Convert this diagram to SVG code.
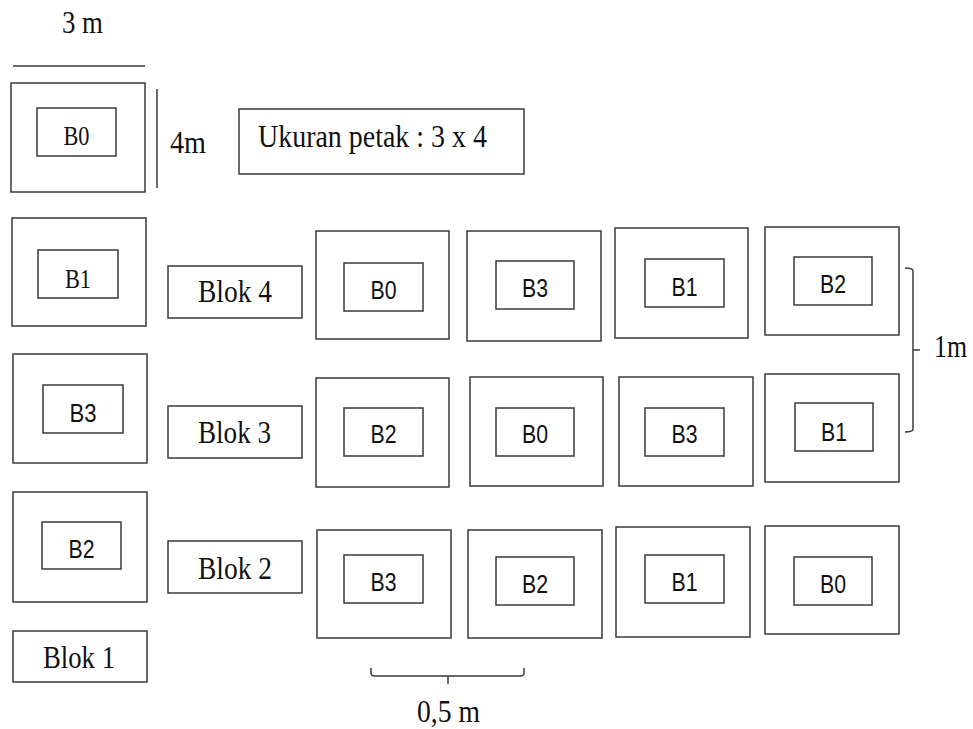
<svg xmlns="http://www.w3.org/2000/svg" width="973" height="729" viewBox="0 0 973 729">
<style>
rect{fill:#fff;stroke:#3a3a3a;stroke-width:1.5}
.ln{fill:none;stroke:#3a3a3a;stroke-width:1.5}
.s{font-family:"Liberation Serif","Times New Roman",serif;font-size:31px;fill:#111}
.b{font-family:"Liberation Sans",Arial,sans-serif;font-size:26px;fill:#111;text-anchor:middle}
.bs{font-family:"Liberation Serif","Times New Roman",serif;font-size:28px;fill:#111;text-anchor:middle}
</style>
<rect x="0" y="0" width="973" height="729" style="fill:#fff;stroke:none"/>
<g id="legend">
<line class="ln" x1="13" y1="66" x2="145" y2="66"/>
<text class="s" x="62" y="33" textLength="41" lengthAdjust="spacingAndGlyphs">3 m</text>
<line class="ln" x1="157" y1="89" x2="157" y2="188"/>
<text class="s" x="170" y="153" textLength="36" lengthAdjust="spacingAndGlyphs">4m</text>
</g>
<g id="ukuran"><rect x="239" y="109" width="285" height="65"/><text class="s" x="258" y="147" textLength="229" lengthAdjust="spacingAndGlyphs">Ukuran petak : 3 x 4</text></g>
<g id="b1-B0"><rect x="11" y="83" width="134" height="109"/><rect x="37" y="108" width="79" height="48"/><text class="bs" x="76.5" y="145" textLength="26" lengthAdjust="spacingAndGlyphs">B0</text></g>
<g id="b1-B1"><rect x="12" y="218" width="134" height="108"/><rect x="38" y="250" width="80" height="48"/><text class="bs" x="78" y="288" textLength="26" lengthAdjust="spacingAndGlyphs">B1</text></g>
<g id="b1-B3"><rect x="13" y="354" width="134" height="109"/><rect x="43" y="385" width="80" height="48"/><text class="b" x="83" y="422" textLength="27" lengthAdjust="spacingAndGlyphs">B3</text></g>
<g id="b1-B2"><rect x="13" y="492" width="134" height="110"/><rect x="42" y="522" width="79" height="47"/><text class="b" x="81.5" y="558" textLength="26" lengthAdjust="spacingAndGlyphs">B2</text></g>
<g id="blok1"><rect x="13" y="631" width="134" height="51"/><text class="s" x="43" y="668" textLength="72" lengthAdjust="spacingAndGlyphs">Blok 1</text></g>
<g id="blok4"><rect x="168" y="266" width="134" height="52"/><text class="s" x="198" y="302" textLength="74" lengthAdjust="spacingAndGlyphs">Blok 4</text></g>
<g id="blok3"><rect x="168" y="406" width="134" height="52"/><text class="s" x="198" y="443" textLength="73" lengthAdjust="spacingAndGlyphs">Blok 3</text></g>
<g id="blok2"><rect x="168" y="541" width="134" height="52"/><text class="s" x="198" y="579" textLength="74" lengthAdjust="spacingAndGlyphs">Blok 2</text></g>

<g id="b4-B0"><rect x="316" y="231" width="133" height="108"/><rect x="344" y="263" width="79" height="48"/><text class="b" x="383.5" y="299" textLength="26" lengthAdjust="spacingAndGlyphs">B0</text></g>
<g id="b4-B3"><rect x="467" y="231" width="134" height="110"/><rect x="496" y="261" width="78" height="48"/><text class="b" x="535" y="297" textLength="26" lengthAdjust="spacingAndGlyphs">B3</text></g>
<g id="b4-B1"><rect x="615" y="228" width="133" height="110"/><rect x="645" y="259" width="79" height="48"/><text class="b" x="684.5" y="296" textLength="26" lengthAdjust="spacingAndGlyphs">B1</text></g>
<g id="b4-B2"><rect x="765" y="227" width="134" height="108"/><rect x="794" y="257" width="78" height="48"/><text class="b" x="833" y="293" textLength="26" lengthAdjust="spacingAndGlyphs">B2</text></g>

<g id="b3-B2"><rect x="316" y="378" width="133" height="109"/><rect x="344" y="408" width="79" height="48"/><text class="b" x="383.5" y="443" textLength="26" lengthAdjust="spacingAndGlyphs">B2</text></g>
<g id="b3-B0"><rect x="470" y="377" width="133" height="109"/><rect x="496" y="408" width="78" height="48"/><text class="b" x="535" y="443" textLength="26" lengthAdjust="spacingAndGlyphs">B0</text></g>
<g id="b3-B3"><rect x="619" y="377" width="134" height="109"/><rect x="645" y="408" width="79" height="48"/><text class="b" x="684.5" y="443" textLength="26" lengthAdjust="spacingAndGlyphs">B3</text></g>
<g id="b3-B1"><rect x="765" y="374" width="134" height="108"/><rect x="795" y="403" width="78" height="48"/><text class="b" x="834" y="441" textLength="26" lengthAdjust="spacingAndGlyphs">B1</text></g>

<g id="b2-B3"><rect x="317" y="530" width="134" height="108"/><rect x="344" y="555" width="79" height="48"/><text class="b" x="383.5" y="591" textLength="26" lengthAdjust="spacingAndGlyphs">B3</text></g>
<g id="b2-B2"><rect x="468" y="530" width="134" height="108"/><rect x="496" y="557" width="78" height="48"/><text class="b" x="535" y="593" textLength="26" lengthAdjust="spacingAndGlyphs">B2</text></g>
<g id="b2-B1"><rect x="616" y="527" width="134" height="110"/><rect x="645" y="555" width="79" height="48"/><text class="b" x="684.5" y="591" textLength="26" lengthAdjust="spacingAndGlyphs">B1</text></g>
<g id="b2-B0"><rect x="765" y="526" width="134" height="108"/><rect x="794" y="557" width="78" height="48"/><text class="b" x="833" y="593" textLength="26" lengthAdjust="spacingAndGlyphs">B0</text></g>

<g id="dimensions">
<path class="ln" d="M905 268 Q913 268 913 271 L913 429 Q913 432 905 432 M913 350 L920 350"/>
<text class="s" x="934" y="357" textLength="33" lengthAdjust="spacingAndGlyphs">1m</text>
<path class="ln" d="M371 668 L371 673 Q371 676 375 676 L520 676 Q524 676 524 673 L524 668 M448 676 L448 684"/>
<text class="s" x="417" y="722" textLength="63" lengthAdjust="spacingAndGlyphs">0,5 m</text>
</g>
</svg>
